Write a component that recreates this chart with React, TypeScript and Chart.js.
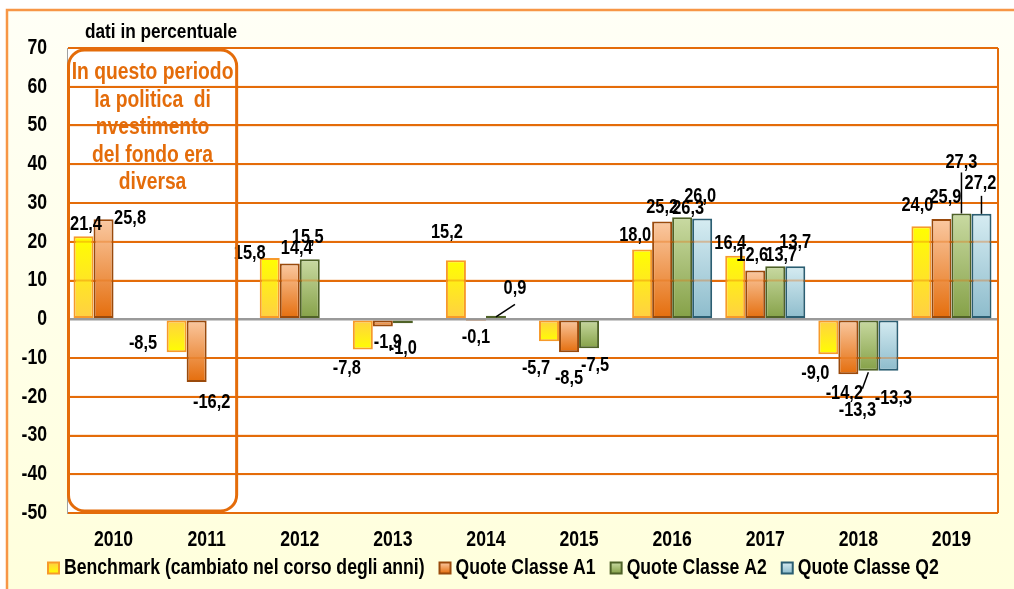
import React, { useEffect, useRef } from "react";
import { Chart, registerables } from "chart.js";

Chart.register(...registerables);

const categories = ["2010", "2011", "2012", "2013", "2014", "2015", "2016", "2017", "2018", "2019"];
const seriesNames = [
  "Benchmark (cambiato nel corso degli anni)",
  "Quote Classe A1",
  "Quote Classe A2",
  "Quote Classe Q2",
];
const benchmark = [21.4, -8.5, 15.8, -7.8, 15.2, -5.7, 18.0, 16.4, -9.0, 24.0];
const classeA1 = [25.8, -16.2, 14.4, -1.9, -0.1, -8.5, 25.2, 12.6, -14.2, 25.9];
const classeA2 = [null, null, 15.5, -1.0, 0.9, -7.5, 26.3, 13.7, -13.3, 27.3];
const classeQ2 = [null, null, null, null, null, null, 26.0, 13.7, -13.3, 27.2];
const yMin = -50;
const yMax = 70;
const yStep = 10;
const titleText = "dati in percentuale";
const noteLines = ["In questo periodo", "la politica  di", "nvestimento", "del fondo era", "diversa"];

// label placement offsets relative to the bar end (x: bar centre, y: value pixel)
const labelOffsets: (number[] | null)[][] = [
  [[2.5, -12], [-33.6, -9], [-20, -5], [-16, 19], [-9, -28], [-13, 27], [-7, -14], [-5, -12], [-13, 19], [-4, -21]],
  [[26.5, -1], [15, 20], [7, -15], [5, 16], [0, 18], [0, 26], [0, -14], [-3, -15], [-4, 19], [4, -21]],
  [null, null, [-2, -22], [0, 25], [19, -27], [6, 17], [6, -9], [6, -11], [-11, 40], [0, -51]],
  [null, null, null, null, null, null, [-2, -22], [0, -24], [5, 28], [-1, -30]],
];
// leader lines: [series, category, startDx, startDy, endDx, endDy]
const leaders = [
  [2, 4, 0, 1, 19, -11.5],
  [2, 8, 0, 1.5, -6, 18],
  [2, 9, 0, 0, 0, -41],
  [3, 9, 0, 0, 0, -18],
];

const FONT = "'Liberation Sans', Arial, sans-serif";
const NARROW = 0.82;
const ORANGE = "#E46C0A";

const palette = [
  { top: "#FFFF00", bottom: "#FFCF45", border: "#F79A2A", invertNeg: true },
  { top: "#FAC9A2", bottom: "#E46C0A", border: "#9A4A0C", invertNeg: false },
  { top: "#C9DAA2", bottom: "#84A046", border: "#4F6228", invertNeg: false },
  { top: "#D6ECF2", bottom: "#8CBBCB", border: "#2B5E72", invertNeg: false },
];

function gradFill(idx: number) {
  const p = palette[idx];
  return (ctx: any) => {
    const chart = ctx.chart;
    const area = chart.chartArea;
    const v = ctx.raw;
    if (!area || v == null || !chart.scales || !chart.scales.y) return p.bottom;
    const ys = chart.scales.y;
    const p0 = ys.getPixelForValue(0);
    const p1 = ys.getPixelForValue(v);
    const t = Math.min(p0, p1);
    const b = Math.max(p0, p1) + 0.5;
    const g = chart.ctx.createLinearGradient(0, t, 0, b);
    let c1 = p.top;
    let c2 = p.bottom;
    if (p.invertNeg && v < 0) {
      c1 = p.bottom;
      c2 = p.top;
    }
    g.addColorStop(0, c1);
    g.addColorStop(1, c2);
    return g;
  };
}

function fmt(v: number) {
  return v.toFixed(1).replace(".", ",");
}

// condensed bold text (Arial Narrow look)
function text(ctx: CanvasRenderingContext2D, s: string, x: number, y: number, size: number, align: CanvasTextAlign, color: string) {
  ctx.save();
  ctx.translate(x, y);
  ctx.scale(NARROW, 1);
  ctx.font = `bold ${size}px ${FONT}`;
  ctx.textAlign = align;
  ctx.textBaseline = "middle";
  ctx.fillStyle = color;
  ctx.fillText(s, 0, 0);
  ctx.restore();
}
function textWidth(ctx: CanvasRenderingContext2D, s: string, size: number) {
  ctx.save();
  ctx.font = `bold ${size}px ${FONT}`;
  const w = ctx.measureText(s).width * NARROW;
  ctx.restore();
  return w;
}

const decorPlugin = {
  id: "decor",
  beforeDraw(chart: any) {
    const { ctx, width, height, chartArea } = chart;
    ctx.save();
    ctx.fillStyle = "#FFFFFF";
    ctx.fillRect(0, 0, width, height);
    const g = ctx.createLinearGradient(0, 10, 0, height);
    g.addColorStop(0, "#FFFFF6");
    g.addColorStop(1, "#FFFFDC");
    ctx.fillStyle = g;
    ctx.fillRect(7, 10, width - 7, height - 10);
    ctx.strokeStyle = "#F79646";
    ctx.lineWidth = 2.5;
    ctx.beginPath();
    ctx.moveTo(7, height);
    ctx.lineTo(7, 10);
    ctx.lineTo(width, 10);
    ctx.stroke();
    ctx.fillStyle = "#FFFFFF";
    ctx.fillRect(chartArea.left, chartArea.top, chartArea.right - chartArea.left, chartArea.bottom - chartArea.top);
    ctx.restore();
    text(ctx, titleText, 85, 32, 21, "left", "#000");
  },
  afterDatasetsDraw(chart: any) {
    const { ctx, chartArea, scales } = chart;
    const ys = scales.y;
    const xs = scales.x;
    ctx.save();
    // faint grid lines visible through the bars
    ctx.globalAlpha = 0.35;
    ctx.strokeStyle = ORANGE;
    ctx.lineWidth = 2;
    for (let v = yMin + yStep; v < yMax; v += yStep) {
      if (v === 0) continue;
      const y = ys.getPixelForValue(v);
      ctx.beginPath();
      ctx.moveTo(chartArea.left, y);
      ctx.lineTo(chartArea.right, y);
      ctx.stroke();
    }
    ctx.globalAlpha = 1;
    // right frame
    ctx.strokeStyle = ORANGE;
    ctx.lineWidth = 2;
    ctx.beginPath();
    ctx.moveTo(chartArea.right, chartArea.top);
    ctx.lineTo(chartArea.right, chartArea.bottom);
    ctx.stroke();
    ctx.restore();

    // axis tick labels
    for (let v = yMin; v <= yMax; v += yStep) {
      text(ctx, String(v), chartArea.left - 20, ys.getPixelForValue(v), 21.5, "right", "#000");
    }
    categories.forEach((c, i) => {
      text(ctx, c, xs.getPixelForValue(i), 540, 21.5, "center", "#000");
    });

    // data labels
    chart.data.datasets.forEach((ds: any, si: number) => {
      const meta = chart.getDatasetMeta(si);
      ds.data.forEach((v: any, i: number) => {
        if (v == null) return;
        const el = meta.data[i];
        const off = labelOffsets[si][i] || [0, v >= 0 ? -12 : 12];
        text(ctx, fmt(v), el.x + off[0], el.y + off[1], 20, "center", "#000");
      });
    });
    ctx.save();
    ctx.strokeStyle = "#000";
    ctx.lineWidth = 1.5;
    leaders.forEach((l) => {
      const el = chart.getDatasetMeta(l[0]).data[l[1]];
      ctx.beginPath();
      ctx.moveTo(el.x + l[2], el.y + l[3]);
      ctx.lineTo(el.x + l[4], el.y + l[5]);
      ctx.stroke();
    });

    // rounded note box
    const left = chartArea.left + 1.5;
    const right = xs.getPixelForValue(1) + 30;
    const top = chartArea.top + 2;
    const bottom = chartArea.bottom - 2;
    const r = 16;
    ctx.strokeStyle = ORANGE;
    ctx.lineWidth = 3;
    ctx.beginPath();
    ctx.moveTo(left + r, top);
    ctx.lineTo(right - r, top);
    ctx.arcTo(right, top, right, top + r, r);
    ctx.lineTo(right, bottom - r);
    ctx.arcTo(right, bottom, right - r, bottom, r);
    ctx.lineTo(left + r, bottom);
    ctx.arcTo(left, bottom, left, bottom - r, r);
    ctx.lineTo(left, top + r);
    ctx.arcTo(left, top, left + r, top, r);
    ctx.closePath();
    ctx.stroke();
    ctx.restore();
    const cx = (left + right) / 2;
    noteLines.forEach((line, k) => {
      text(ctx, line, cx, 73 + k * 27.5, 23.5, "center", ORANGE);
    });

    // legend
    ctx.save();
    let x = 48;
    const ly = 568;
    const fs = 21.5;
    seriesNames.forEach((name, k) => {
      const p = palette[k];
      const g = ctx.createLinearGradient(0, ly - 5.5, 0, ly + 5.5);
      g.addColorStop(0, k === 0 ? p.bottom : p.top);
      g.addColorStop(1, k === 0 ? p.top : p.bottom);
      ctx.fillStyle = g;
      ctx.fillRect(x, ly - 5.5, 11, 11);
      ctx.strokeStyle = p.border;
      ctx.lineWidth = 2;
      ctx.strokeRect(x, ly - 5.5, 11, 11);
      text(ctx, name, x + 16, ly, fs, "left", "#000");
      x += 16 + textWidth(ctx, name, fs) + 15;
    });
    ctx.restore();
  },
};

export default function App() {
  const ref = useRef<HTMLCanvasElement | null>(null);
  useEffect(() => {
    if (!ref.current) return;
    const series = [benchmark, classeA1, classeA2, classeQ2];
    const chart = new Chart(ref.current, {
      type: "bar",
      data: {
        labels: categories,
        datasets: series.map((d, k) => ({
          label: seriesNames[k],
          data: d as any,
          backgroundColor: gradFill(k) as any,
          borderColor: palette[k].border,
          borderWidth: 2,
          borderSkipped: false,
          categoryPercentage: 0.86,
          barPercentage: 1.0,
        })),
      },
      options: {
        responsive: false,
        animation: false,
        devicePixelRatio: 1,
        layout: { padding: { top: 48, right: 16, left: 0, bottom: 0 } },
        plugins: { legend: { display: false }, tooltip: { enabled: false }, title: { display: false } },
        scales: {
          x: {
            grid: { display: false, drawTicks: false },
            border: { display: false },
            ticks: { display: false },
            afterFit: (s: any) => {
              s.height = 76;
            },
          },
          y: {
            min: yMin,
            max: yMax,
            grid: {
              drawTicks: false,
              color: (c: any) => (c.tick && c.tick.value === 0 ? "#9A9A9A" : ORANGE),
              lineWidth: (c: any) => (c.tick && c.tick.value === 0 ? 2.5 : 2),
            },
            border: { display: true, color: "#A0A0A0", width: 1 },
            ticks: { display: false, stepSize: yStep },
            afterFit: (s: any) => {
              s.width = 67;
            },
          },
        },
      },
      plugins: [decorPlugin],
    });
    return () => chart.destroy();
  }, []);
  return (
    <canvas
      ref={ref}
      width={1014}
      height={589}
      style={{ position: "fixed", left: 0, top: 0, width: 1014, height: 589, display: "block" }}
    />
  );
}
